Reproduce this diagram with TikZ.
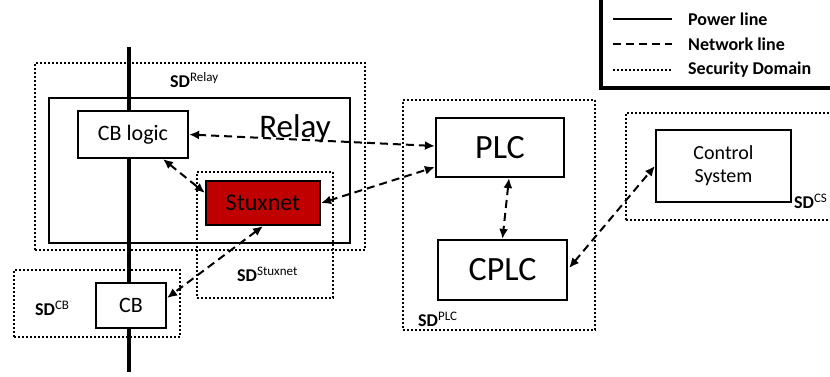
\documentclass[tikz,border=0pt]{standalone}
\usepackage{fontspec}
\setmainfont{Carlito}
\usetikzlibrary{arrows.meta,calc}
\newcommand\sdlab[1]{{\fontsize{18}{20}\selectfont\bfseries SD}\raisebox{6pt}{\fontsize{13}{14}\selectfont #1}}
\tikzset{
  box/.style={draw,line width=2.2pt,fill=white,inner sep=0pt,font=\fontsize{22}{24}\selectfont},
  bigbox/.style={box,font=\fontsize{34}{36}\selectfont},
  sd/.style={draw,line width=2pt,dash pattern=on 2pt off 2pt,inner sep=0pt},
  net/.style={line width=2pt,dash pattern=on 8pt off 5pt,{Latex[length=10pt,width=9pt]}-{Latex[length=10pt,width=9pt]}},
  power/.style={line width=3.2pt},
  lbl/.style={inner sep=0pt,anchor=west}
}
\begin{document}
\begin{tikzpicture}[x=1pt,y=-1pt]
\useasboundingbox (0,0) rectangle (830,377);
% security domains
\node[sd,minimum width=330,minimum height=187] (sdrelay) at (200,156.5) {};
\node[sd,minimum width=192,minimum height=230] (sdplc) at (499,215) {};
\node[sd,minimum width=214,minimum height=107] (sdcs) at (733,166.5) {};
% power line
\coordinate (ptop) at (129,47);
\coordinate (pbot) at (129,372);
\draw[power] (ptop) -- (pbot);
% relay box
\node[draw,line width=2.2pt,minimum width=301,minimum height=145,inner sep=0pt] (relay) at (199.5,170.5) {};
\node[sd,minimum width=136,minimum height=126] (sdstux) at (265,235) {};
\node[sd,minimum width=166,minimum height=67] (sdcb) at (97,303.5) {};
\node[font=\fontsize{33}{36}\selectfont,inner sep=0pt] (relaylbl) at (295,129) {Relay};
% components
\node[box,minimum width=110,minimum height=47] (cblogic) at (133,134.5) {CB logic};
\node[box,fill={rgb,255:red,192;green,0;blue,0},minimum width=114,minimum height=44,font=\fontsize{24}{26}\selectfont] (stux) at (263,203) {Stuxnet};
\node[box,minimum width=70,minimum height=45] (cb) at (131,305.5) {CB};
\node[bigbox,minimum width=128,minimum height=59] (plc) at (500,147.5) {PLC};
\node[bigbox,minimum width=129,minimum height=60] (cplc) at (502.5,270) {CPLC};
\node[box,minimum width=135,minimum height=72,align=center,font=\fontsize{20}{23}\selectfont] (cs) at (723.5,166) {Control\\System};
% SD labels
\node[lbl] (l1) at (170,80) {\sdlab{Relay}};
\node[lbl] (l2) at (237,274) {\sdlab{Stuxnet}};
\node[lbl] (l3) at (35,308) {\sdlab{CB}};
\node[lbl] (l4) at (418,319) {\sdlab{PLC}};
\node[lbl] (l5) at (794,201) {\sdlab{CS}};
% network connections
\draw[net] (cblogic.east) -- ($(plc.west)+(0,-1.5)$);
\draw[net] (stux.east) -- ($(plc.south west)+(0,-11)$);
\draw[net] ($(cblogic.south)+(30,0)$) -- ($(stux.north west)+(0,13)$);
\draw[net] (stux.south) -- ($(cb.east)+(0,-7.5)$);
\draw[net] ($(plc.south)+(9,0)$) -- (cplc.north);
\draw[net] ($(cplc.east)+(1,-2)$) -- (cs.west);
% legend
\node[draw,line width=4pt,minimum width=240,minimum height=92,inner sep=0pt] (legend) at (721,42) {};
\coordinate (a1) at (613,19); \coordinate (b1) at (672,19);
\coordinate (a2) at (613,44); \coordinate (b2) at (672,44);
\coordinate (a3) at (613,70); \coordinate (b3) at (672,70);
\draw[line width=2pt] (a1) -- (b1);
\draw[line width=2pt,dash pattern=on 8pt off 5pt] (a2) -- (b2);
\draw[line width=2pt,dash pattern=on 2pt off 2pt] (a3) -- (b3);
\node[lbl,font=\fontsize{18}{20}\selectfont\bfseries] (t1) at (688,19) {Power line};
\node[lbl,font=\fontsize{18}{20}\selectfont\bfseries] (t2) at (688,44) {Network line};
\node[lbl,font=\fontsize{18}{20}\selectfont\bfseries] (t3) at (688,70) {Security Domain};
\end{tikzpicture}
\end{document}
